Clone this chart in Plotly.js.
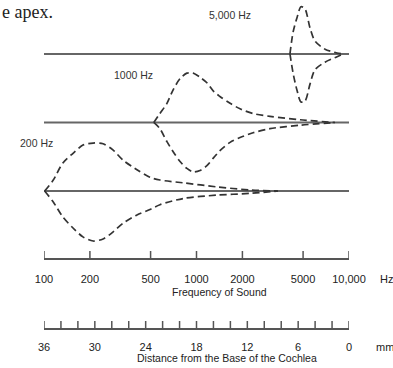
<!DOCTYPE html>
<html><head><meta charset="utf-8">
<script src="https://cdn.plot.ly/plotly-3.0.1.min.js"></script>
<style>html,body{margin:0;padding:0;background:#fff;}#chart{width:393px;height:368px;}</style>
</head><body><div id="chart"></div>
<script>
// Tick positions and labels
const freqTicks = [100, 200, 500, 1000, 2000, 5000, 10000];
const freqTickText = ['100', '200', '500', '1000', '2000', '5000', '10,000'];
const mmTicks = [36, 30, 24, 18, 12, 6, 0];
const mmTickText = ['36', '30', '24', '18', '12', '6', '0'];
const mmMarks = [36, 34, 32, 30, 28, 26, 24, 22, 20, 18, 16, 14, 12, 10, 8, 6, 4, 2, 0];

// Wave labels and baseline levels (200 Hz bottom, 5000 Hz top)
const waveLabels = ['200 Hz', '1000 Hz', '5,000 Hz'];
const waveLevels = [0, 1, 2];

// 200 Hz envelope (frequency-equivalent place, upper / lower displacement)
const freq200 = [101, 115, 133, 155, 180, 210, 244, 283, 330, 407, 495, 576, 815, 1360, 2240, 3420];
const up200   = [0, 0.16, 0.41, 0.55, 0.67, 0.70, 0.69, 0.60, 0.45, 0.31, 0.20, 0.16, 0.12, 0.06, 0.015, 0];
const lo200   = [0, 0.16, 0.38, 0.54, 0.67, 0.73, 0.70, 0.60, 0.47, 0.35, 0.27, 0.20, 0.11, 0.06, 0.035, 0];

// 1000 Hz envelope
const freq1000 = [525, 575, 640, 700, 780, 865, 950, 1055, 1170, 1300, 1425, 1660, 1930, 2350, 3030, 4780, 8100];
const up1000   = [0, 0.13, 0.28, 0.47, 0.64, 0.72, 0.72, 0.66, 0.58, 0.45, 0.38, 0.28, 0.20, 0.13, 0.09, 0.04, 0];
const lo1000   = [0, 0.09, 0.28, 0.42, 0.57, 0.67, 0.72, 0.70, 0.63, 0.51, 0.41, 0.29, 0.22, 0.15, 0.09, 0.04, 0];

// 5000 Hz envelope
const freq5000 = [4100, 4300, 4560, 4840, 5140, 5550, 5980, 6960, 8350, 9130];
const up5000   = [0, 0.32, 0.53, 0.69, 0.66, 0.38, 0.19, 0.07, 0.015, 0];
const lo5000   = [0, 0.28, 0.53, 0.70, 0.69, 0.44, 0.23, 0.12, 0.04, 0];

const waves = [
  {f: freq200, up: up200, lo: lo200},
  {f: freq1000, up: up1000, lo: lo1000},
  {f: freq5000, up: up5000, lo: lo5000}
];

const dashStyle = {color: '#333', width: 1.7, dash: '7px,4px', shape: 'spline', smoothing: 0.8};
const traces = [];
waves.forEach((w, i) => {
  const L = waveLevels[i];
  traces.push({x: [freqTicks[0], freqTicks[freqTicks.length - 1]], y: [L, L], mode: 'lines',
    line: {color: '#666', width: 1.8}, hoverinfo: 'skip', showlegend: false});
  traces.push({x: w.f, y: w.up.map(v => L + v), mode: 'lines', line: dashStyle, hoverinfo: 'skip', showlegend: false});
  traces.push({x: w.f, y: w.lo.map(v => L - v), mode: 'lines', line: dashStyle, hoverinfo: 'skip', showlegend: false});
});
// empty trace that creates the distance-axis subplot
traces.push({x: [mmTicks[0], mmTicks[mmTicks.length - 1]], y: [null, null], xaxis: 'x2', yaxis: 'y2',
  mode: 'lines', hoverinfo: 'skip', showlegend: false});

const sans = 'Liberation Sans, Arial, sans-serif';
const tickFont = {family: sans, size: 11, color: '#222'};
const H = 368;
const py = p => (H - p) / H;          // pixel row -> paper fraction
const px = p => (p - 44) / 305;        // pixel column -> paper fraction
const FREQ_LINE = 258, MM_LINE = 328, TICK_LEN = 7;

// axes: line + labels; transparent outside ticks only push the labels down
const labelAxis = {
  showgrid: false, zeroline: false, showline: true, linecolor: '#555', linewidth: 1.5,
  ticks: 'outside', tickcolor: 'rgba(0,0,0,0)', tickfont: tickFont, automargin: false, fixedrange: true
};

// tick marks pointing up from each scale line, placed through the axes' own scales
const tickStyle = {color: '#555', width: 1.5};
const tickShapes = [].concat(
  freqTicks.map(v => ({type: 'line', xref: 'x', yref: 'paper', x0: v, x1: v,
    y0: py(FREQ_LINE), y1: py(FREQ_LINE - TICK_LEN), line: tickStyle})),
  mmMarks.map(v => ({type: 'line', xref: 'x2', yref: 'paper', x0: v, x1: v,
    y0: py(MM_LINE), y1: py(MM_LINE - TICK_LEN), line: tickStyle}))
);

const layout = {
  width: 393, height: 368,
  margin: {l: 44, r: 44, t: 0, b: 0},
  paper_bgcolor: '#fff', plot_bgcolor: '#fff',
  showlegend: false,
  xaxis: Object.assign({}, labelAxis, {
    type: 'log', range: [2, 4], anchor: 'y', ticklen: 10,
    tickvals: freqTicks, ticktext: freqTickText
  }),
  xaxis2: Object.assign({}, labelAxis, {
    range: [36, 0], anchor: 'y2', ticklen: 8,
    tickvals: mmTicks, ticktext: mmTickText
  }),
  yaxis: {domain: [py(FREQ_LINE), 1], range: [-0.978, 2.788], visible: false, fixedrange: true},
  yaxis2: {domain: [py(MM_LINE), py(MM_LINE) + 0.04], range: [0, 1], visible: false, fixedrange: true},
  shapes: tickShapes,
  annotations: [
    {text: 'e apex.', xref: 'paper', yref: 'paper', x: px(0), y: 1, xanchor: 'left', yanchor: 'top',
      showarrow: false, font: {family: 'Liberation Serif, Times New Roman, serif', size: 18, color: '#222'}},
    {text: waveLabels[2], xref: 'paper', yref: 'paper', x: px(230), y: py(15), xanchor: 'center', yanchor: 'middle',
      showarrow: false, font: {family: sans, size: 10.5, color: '#333'}},
    {text: waveLabels[1], xref: 'paper', yref: 'paper', x: px(133), y: py(75), xanchor: 'center', yanchor: 'middle',
      showarrow: false, font: {family: sans, size: 10.5, color: '#333'}},
    {text: waveLabels[0], xref: 'paper', yref: 'paper', x: px(36), y: py(143), xanchor: 'center', yanchor: 'middle',
      showarrow: false, font: {family: sans, size: 10.5, color: '#333'}},
    {text: 'Frequency of Sound', xref: 'paper', yref: 'paper', x: px(219), y: py(292), xanchor: 'center', yanchor: 'middle',
      showarrow: false, font: {family: sans, size: 10.5, color: '#222'}},
    {text: 'Hz', xref: 'paper', yref: 'paper', x: px(378), y: py(279), xanchor: 'left', yanchor: 'middle',
      showarrow: false, font: tickFont},
    {text: 'Distance from the Base of the Cochlea', xref: 'paper', yref: 'paper', x: px(227), y: py(358),
      xanchor: 'center', yanchor: 'middle', showarrow: false, font: {family: sans, size: 10.5, color: '#222'}},
    {text: 'mm', xref: 'paper', yref: 'paper', x: px(374), y: py(347), xanchor: 'left', yanchor: 'middle',
      showarrow: false, font: tickFont}
  ]
};

Plotly.newPlot('chart', traces, layout, {staticPlot: true, displayModeBar: false});
</script>
</body></html>
